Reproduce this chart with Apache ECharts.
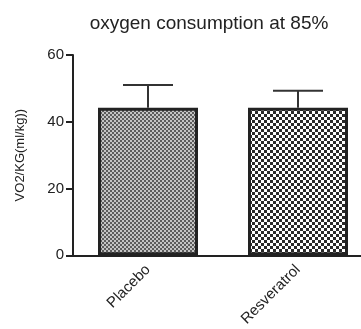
<!DOCTYPE html>
<html>
<head>
<meta charset="utf-8">
<style>
  html, body { margin: 0; padding: 0; background: #fff; overflow: hidden; }
  /* canvas is wider than the window so the plot area runs off the right edge */
  #chart { width: 373px; height: 329px; }
</style>
<script src="https://cdn.jsdelivr.net/npm/echarts@6/dist/echarts.min.js"></script>
</head>
<body>
<div id="chart"></div>
<script>
// Group means and upper SD error values for VO2/kg
const categories = ['Placebo', 'Resveratrol'];
const means = [44.2, 44.2];
const upperErrors = [51.0, 49.3];
const yTicks = [0, 20, 40, 60];

// Hatch-like fills drawn on small canvas tiles
function makeTile(size, paint) {
  const c = document.createElement('canvas');
  c.width = size; c.height = size;
  const ctx = c.getContext('2d');
  paint(ctx, size);
  return c;
}
const fineStipple = makeTile(4, (ctx) => {
  ctx.fillStyle = '#c4c4c4'; ctx.fillRect(0, 0, 4, 4);
  ctx.fillStyle = '#5c5c5c';
  ctx.fillRect(0, 0, 2, 2); ctx.fillRect(2, 2, 2, 2);
});
const checker = makeTile(6, (ctx) => {
  ctx.fillStyle = '#ffffff'; ctx.fillRect(0, 0, 6, 6);
  ctx.fillStyle = '#2a2a2a';
  ctx.fillRect(0, 0, 3, 3); ctx.fillRect(3, 3, 3, 3);
});
const fills = [fineStipple, checker];

const FONT = 'Liberation Sans, Arial, sans-serif';
const INK = '#222';

const chart = echarts.init(document.getElementById('chart'), null, { renderer: 'canvas' });
chart.setOption({
  animation: false,
  backgroundColor: '#fff',
  title: {
    text: 'oxygen consumption at 85%',
    left: 204,
    top: 9,
    textAlign: 'center',
    textStyle: { fontFamily: FONT, fontSize: 19, fontWeight: 'normal', color: INK }
  },
  grid: { left: 73, right: 0, top: 55, bottom: 73, containLabel: false },
  xAxis: {
    type: 'category',
    data: categories,
    axisLine: { lineStyle: { color: INK, width: 2 } },
    axisTick: { alignWithLabel: true, length: 6, lineStyle: { color: INK, width: 2 } },
    axisLabel: { rotate: 45, margin: 12, fontFamily: FONT, fontSize: 15, color: INK }
  },
  yAxis: {
    type: 'value',
    min: yTicks[0],
    max: yTicks[yTicks.length - 1],
    interval: yTicks[1] - yTicks[0],
    name: 'VO2/KG(ml/kg))',
    nameLocation: 'middle',
    nameGap: 46,
    nameTextStyle: { fontFamily: FONT, fontSize: 13, color: INK },
    splitLine: { show: false },
    axisLine: { show: true, lineStyle: { color: INK, width: 2 } },
    axisTick: { show: true, length: 7, lineStyle: { color: INK, width: 2 } },
    axisLabel: { margin: 9, fontFamily: FONT, fontSize: 15, color: INK }
  },
  series: [
    {
      type: 'bar',
      barWidth: 100,
      data: means.map((v, i) => ({
        value: v,
        itemStyle: {
          color: { image: fills[i], repeat: 'repeat' },
          borderColor: INK,
          borderWidth: 3
        }
      })),
      z: 2
    },
    {
      type: 'custom',
      z: 3,
      data: upperErrors.map((e, i) => [i, means[i], e]),
      renderItem: function (params, api) {
        const base = api.coord([api.value(0), api.value(1)]);
        const top = api.coord([api.value(0), api.value(2)]);
        const half = 25;
        const style = { stroke: '#333', lineWidth: 2 };
        return {
          type: 'group',
          children: [
            { type: 'line', shape: { x1: base[0], y1: base[1], x2: top[0], y2: top[1] }, style },
            { type: 'line', shape: { x1: top[0] - half, y1: top[1], x2: top[0] + half, y2: top[1] }, style }
          ]
        };
      }
    }
  ]
});
</script>
</body>
</html>
